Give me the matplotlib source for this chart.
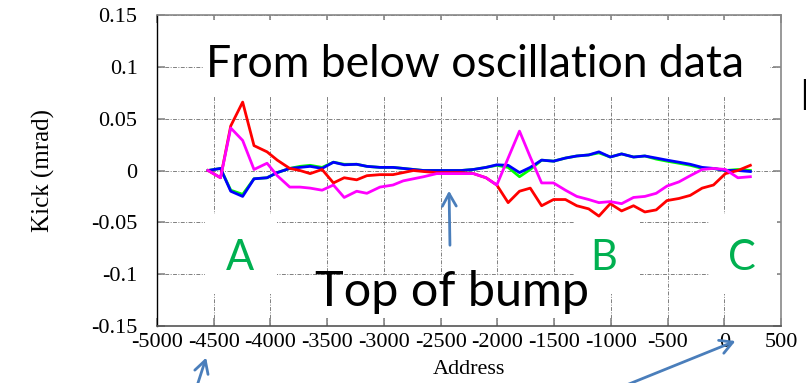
import matplotlib
matplotlib.use("Agg")
import matplotlib.pyplot as plt
from matplotlib.patches import Rectangle, FancyArrowPatch

# ---------------- data ----------------
address = [-4550, -4440, -4350, -4245, -4145, -4030, -3940, -3830, -3740, -3650,
           -3545, -3445, -3350, -3240, -3150, -3035, -2920, -2830, -2740, -2650,
           -2535, -2430, -2320, -2210, -2100, -2005, -1905, -1805, -1710, -1610,
           -1505, -1400, -1300, -1195, -1105, -1005, -905, -800, -700, -600,
           -505, -400, -300, -195, -95, 10, 120, 230]

kick_red = [0, -0.007, 0.043, 0.066, 0.024, 0.018, 0.010, 0.002, 0.000, -0.003,
            0.001, -0.012, -0.007, -0.009, -0.005, -0.004, -0.004, -0.002, 0.000, -0.001,
            -0.002, -0.002, -0.002, -0.003, -0.007, -0.014, -0.031, -0.020, -0.017, -0.034,
            -0.028, -0.028, -0.034, -0.037, -0.044, -0.032, -0.039, -0.034, -0.040, -0.038,
            -0.029, -0.027, -0.024, -0.017, -0.014, -0.003, 0.000, 0.005]

kick_magenta = [0, -0.007, 0.041, 0.029, 0.001, 0.007, -0.005, -0.016, -0.016, -0.017,
                -0.019, -0.014, -0.026, -0.020, -0.022, -0.016, -0.014, -0.010, -0.008, -0.006,
                -0.003, -0.003, -0.003, -0.003, -0.007, -0.014, 0.012, 0.038, 0.013, -0.012,
                -0.012, -0.019, -0.025, -0.028, -0.031, -0.030, -0.032, -0.026, -0.025, -0.022,
                -0.015, -0.011, -0.005, 0.001, 0.002, 0.001, -0.007, -0.006]

kick_green = [0, 0.002, -0.019, -0.023, -0.008, -0.007, -0.002, 0.002, 0.004, 0.005,
              0.003, 0.008, 0.006, 0.006, 0.004, 0.003, 0.003, 0.002, 0.001, 0.000,
              0.000, 0.000, 0.000, 0.001, 0.003, 0.005, 0.003, -0.006, 0.001, 0.010,
              0.009, 0.012, 0.014, 0.015, 0.017, 0.013, 0.016, 0.013, 0.014, 0.011,
              0.009, 0.007, 0.005, 0.002, 0.002, 0.000, 0.001, 0.000]

kick_blue = [0, 0.002, -0.020, -0.025, -0.008, -0.007, -0.002, 0.002, 0.003, 0.004,
             0.002, 0.008, 0.0055, 0.006, 0.004, 0.003, 0.003, 0.002, 0.001, 0.000,
             0.000, 0.000, 0.000, 0.001, 0.003, 0.0055, 0.005, -0.002, 0.003, 0.010,
             0.009, 0.012, 0.014, 0.015, 0.018, 0.013, 0.016, 0.013, 0.014, 0.012,
             0.010, 0.008, 0.006, 0.003, 0.002, 0.000, 0.000, -0.001]

x_ticks = [-5000, -4500, -4000, -3500, -3000, -2500, -2000, -1500, -1000, -500, 0, 500]
x_tick_labels = ["-5000", "-4500", "-4000", "-3500", "-3000", "-2500", "-2000",
                 "-1500", "-1000", "-500", "0", "500"]
y_ticks = [-0.15, -0.1, -0.05, 0, 0.05, 0.1, 0.15]
y_tick_labels = ["-0.15", "-0.1", "-0.05", "0", "0.05", "0.1", "0.15"]

# ---------------- layout ----------------
W, H = 806, 383
fig = plt.figure(figsize=(W / 100, H / 100), dpi=100)
fig.patch.set_facecolor("white")

def fx(X):
    return X / W

def fy(Y):
    return 1 - Y / H

L, R, T, B = 157, 781, 15, 326
ax = fig.add_axes([fx(L), fy(B), (R - L) / W, (B - T) / H])
ax.set_xlim(-5000, 500)
ax.set_ylim(-0.15, 0.15)
ax.set_axisbelow(True)

serif = "Liberation Serif"
ax.set_xticks(x_ticks)
ax.set_xticklabels(x_tick_labels, family=serif, fontsize=16)
ax.set_yticks(y_ticks)
ax.set_yticklabels(y_tick_labels, family=serif, fontsize=16)
ax.tick_params(axis="both", direction="in", length=6, width=1.2, color="#888888",
               top=True, right=True)
ax.tick_params(axis="x", pad=5)
ax.tick_params(axis="y", pad=14)

ax.grid(True, color="#808080", linewidth=0.7, linestyle=(0, (4, 1.5, 1, 1.5)))

for side in ["top", "right"]:
    ax.spines[side].set_color("#888888")
    ax.spines[side].set_linewidth(1.2)
ax.spines["left"].set_color("black")
ax.spines["bottom"].set_color("#555555")
ax.spines["left"].set_linewidth(1.0)
ax.spines["bottom"].set_linewidth(1.2)

ax.set_ylabel("Kick (mrad)", family=serif, fontsize=18, labelpad=26)
ax.set_xlabel("Address", family=serif, fontsize=16, labelpad=6)

# white text boxes (slide overlays)
boxes = [(203, 20, 770, 97), (205, 214, 277, 294), (574, 214, 640, 294),
         (709, 214, 777, 294), (300, 276, 595, 318)]
for x0, y0, x1, y1 in boxes:
    ax.add_patch(Rectangle((fx(x0), fy(y1)), (x1 - x0) / W, (y1 - y0) / H,
                           transform=fig.transFigure, facecolor="white",
                           edgecolor="none", zorder=1, clip_on=False))

lw = 2.0
ax.plot(address, kick_green, color="#00FF00", lw=lw, zorder=3)
ax.plot(address, kick_blue, color="#0000FF", lw=lw, zorder=4)
ax.plot(address, kick_red, color="#FF0000", lw=lw, zorder=5)
ax.plot(address, kick_magenta, color="#FF00FF", lw=lw, zorder=6)

sans = "Lato"
fig.text(fx(475), fy(77), "From below oscillation data", family=sans, fontsize=32,
         ha="center", va="baseline", color="black")
fig.text(fx(452), fy(306), "Top of bump", family=sans, fontsize=35,
         ha="center", va="baseline", color="black")
green = "#00B050"
for lab, X in [("A", 240), ("B", 604), ("C", 742)]:
    fig.text(fx(X), fy(270), lab, family=sans, fontsize=30, ha="center",
             va="baseline", color=green)
fig.text(fx(799), fy(110), "I", family=sans, fontsize=31, ha="left",
         va="baseline", color="black")

arrow_col = "#4A7EBB"
for (x0, y0), (x1, y1) in [((450, 248), (449, 188)), ((197, 386), (207, 355)),
                           ((624, 386), (738, 340))]:
    fig.add_artist(FancyArrowPatch(
        (fx(x0), fy(y0)), (fx(x1), fy(y1)), transform=fig.transFigure,
        arrowstyle="->,head_length=9,head_width=5", color=arrow_col, lw=2,
        mutation_scale=1, zorder=10))

fig.savefig("out.png", dpi=100)
